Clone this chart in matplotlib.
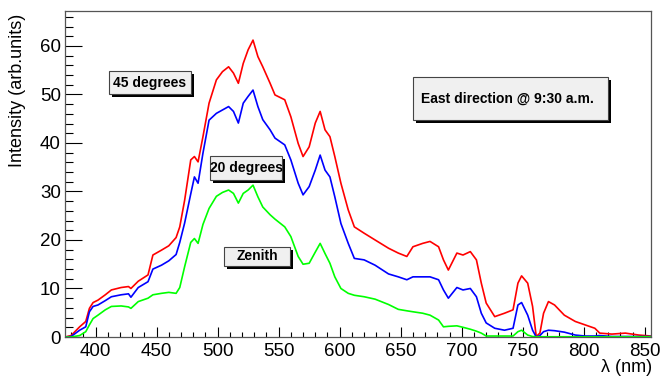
import matplotlib.pyplot as plt
from matplotlib.patches import Rectangle
from matplotlib.ticker import MultipleLocator

# wavelength grid (nm)
wl = [375, 380, 387, 392, 395, 398, 402, 408, 413, 421, 427, 429, 435, 443, 447,
      454, 460, 466, 469, 473, 478, 481, 484, 488, 493, 499, 504, 509, 513, 517,
      521, 525, 529, 533, 537, 543, 547, 555, 560, 566, 570, 575, 580, 584, 588,
      592, 596, 601, 607, 612, 620, 629, 640, 648, 655, 660, 668, 674, 681, 685,
      689, 696, 701, 707, 712, 716, 720, 727, 735, 742, 746, 749, 754, 758, 761,
      764, 767, 771, 776, 784, 793, 801, 809, 813, 823, 834, 845, 855]

# 45 degrees
deg45 = [0, 0.3, 2.1, 3.2, 5.9, 7.1, 7.6, 8.7, 9.7, 10.2, 10.4, 10.0, 11.5, 12.8, 16.9,
         17.9, 18.8, 20.5, 22.7, 28.2, 36.5, 37.2, 36.1, 41.3, 48.2, 53.0, 54.7, 55.7, 54.4, 52.3,
         56.4, 59.2, 61.2, 57.8, 55.7, 52.3, 49.9, 48.9, 45.4, 39.9, 37.2, 39.2, 44.1, 46.5, 42.7,
         41.3, 37.2, 31.7, 26.2, 22.7, 21.4, 20.0, 18.3, 17.3, 16.6, 18.6, 19.3, 19.7, 18.6, 15.9,
         13.8, 17.3, 16.9, 17.6, 15.9, 11.1, 7.0, 4.2, 4.9, 5.6, 11.1, 12.6, 11.1, 6.3, 0.1,
         0.8, 4.9, 7.3, 6.6, 4.5, 3.2, 2.5, 1.8, 0.8, 0.6, 0.8, 0.4, 0.2]

# 20 degrees
deg20 = [0, 0.1, 1.4, 2.1, 5.2, 6.3, 6.6, 7.5, 8.3, 8.7, 8.9, 8.2, 10.2, 11.4, 14.0,
         14.8, 15.7, 17.0, 19.5, 23.5, 29.5, 33.0, 31.7, 37.9, 44.7, 46.1, 46.8, 47.5, 46.5, 44.1,
         48.2, 49.6, 50.9, 47.5, 44.8, 42.7, 41.0, 39.6, 36.5, 31.7, 29.3, 31.0, 34.4, 37.5, 34.4,
         33.0, 28.9, 23.4, 19.3, 16.2, 15.9, 14.8, 13.0, 12.4, 11.8, 12.4, 12.4, 12.4, 11.8, 9.7,
         8.0, 10.2, 9.7, 10.0, 8.3, 4.9, 2.9, 1.8, 1.4, 1.8, 6.6, 7.1, 4.5, 1.4, 0.0,
         0.3, 1.1, 1.4, 1.3, 1.0, 0.4, 0.2, 0.2, 0.3, 0.1, 0.1, 0.1, 0.1]

# zenith
zenith = [0, 0, 0.3, 1.1, 2.5, 3.8, 4.5, 5.6, 6.3, 6.4, 6.2, 5.9, 7.3, 8.0, 8.7,
          9.0, 9.2, 9.0, 10.2, 14.5, 19.5, 20.3, 19.3, 23.2, 26.5, 29.0, 29.8, 30.3, 29.6, 27.6,
          29.6, 30.3, 31.3, 28.9, 26.8, 25.2, 24.3, 22.7, 20.7, 16.6, 15.0, 15.2, 17.5, 19.3, 17.2,
          15.2, 12.4, 10.0, 9.0, 8.6, 8.3, 7.8, 6.7, 5.7, 5.4, 5.2, 4.9, 4.5, 3.5, 2.1,
          2.2, 2.3, 2.0, 1.6, 1.2, 0.8, 0.2, 0.2, 0.2, 0.2, 1.1, 1.4, 0.4, 0.1, 0.05,
          0.05, 0.05, 0.05, 0.05, 0.05, 0.05, 0.05, 0.05, 0.05, 0.05, 0.05, 0.05, 0.05]

plt.rcParams['font.family'] = ['Liberation Sans', 'DejaVu Sans']

W, H = 662, 378
fig = plt.figure(figsize=(W / 100, H / 100), dpi=100)
ax = fig.add_axes([65 / W, 1 - 337 / H, (651 - 65) / W, (337 - 11) / H])

ax.plot(wl, deg45, color='#ff0000', lw=1.2)
ax.plot(wl, deg20, color='#0000ff', lw=1.2)
ax.plot(wl, zenith, color='#00ff00', lw=1.2)

ax.set_xlim(375, 855)
ax.set_ylim(0, 67.2)
ax.xaxis.set_major_locator(MultipleLocator(50))
ax.xaxis.set_minor_locator(MultipleLocator(10))
ax.yaxis.set_major_locator(MultipleLocator(10))
ax.yaxis.set_minor_locator(MultipleLocator(2))
ax.tick_params(axis='x', which='major', direction='in', length=7.2, width=0.8, labelsize=13.5, pad=4)
ax.tick_params(axis='x', which='minor', direction='in', length=3.6, width=0.8)
ax.tick_params(axis='y', which='major', direction='in', length=12.2, width=0.8, labelsize=13.5, pad=3)
ax.tick_params(axis='y', which='minor', direction='in', length=6.1, width=0.8)
for s in ax.spines.values():
    s.set_color('#555555')
    s.set_linewidth(0.9)

# ROOT style axis titles at the end of the axes
fig.text(652 / W, 1 - 368 / H, 'λ (nm)', ha='right', va='center', fontsize=13)
fig.text(18 / W, 1 - 14 / H, 'Intensity (arb.units)', rotation=90, ha='center', va='top', fontsize=13)


def pave(x0, y0, x1, y1, txt, left=None):
    # shadowed text box, coordinates in image pixels (top-left origin)
    sh = 3
    fig.patches.append(Rectangle(((x0 + sh) / W, 1 - (y1 + sh) / H), (x1 - x0) / W, (y1 - y0) / H,
                                 transform=fig.transFigure, facecolor='black', edgecolor='none'))
    fig.patches.append(Rectangle((x0 / W, 1 - y1 / H), (x1 - x0) / W, (y1 - y0) / H,
                                 transform=fig.transFigure, facecolor='#f0f0f0',
                                 edgecolor='#444444', lw=0.8))
    yc = 1 - (y0 + y1) / 2 / H
    if left is None:
        fig.text((x0 + x1) / 2 / W, yc, txt, ha='center', va='center', fontsize=10, fontweight='bold')
    else:
        fig.text(left / W, yc, txt, ha='left', va='center', fontsize=10, fontweight='bold')


pave(109, 71, 191, 94, '45 degrees')
pave(210, 156, 282, 180, '20 degrees')
pave(224, 247, 290, 266, 'Zenith')
pave(413, 77, 608, 120, 'East direction @ 9:30 a.m.', left=421)

fig.savefig('out.png', dpi=100)
